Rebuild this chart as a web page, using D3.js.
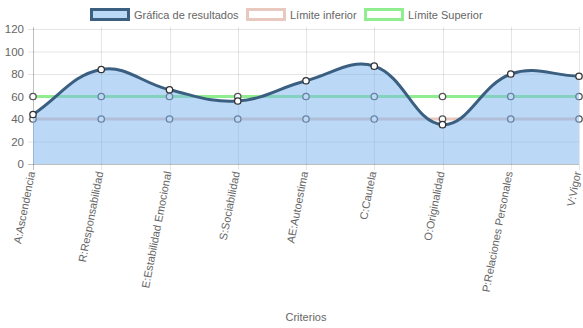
<!DOCTYPE html>
<html><head><meta charset="utf-8">
<script src="https://cdn.jsdelivr.net/npm/d3@7"></script>
<style>html,body{margin:0;padding:0;background:#fff}svg{display:block}</style>
</head><body>
<svg id="c" width="583" height="328"></svg>
<script>
const categories = ["A:Ascendencia","R:Responsabilidad","E:Estabilidad Emocional","S:Sociabilidad","AE:Autoestima","C:Cautela","O:Originalidad","P:Relaciones Personales","V:Vigor"];
const results = [44, 84, 66, 56, 74, 87, 35, 80, 78];
const lowerLimit = [40, 40, 40, 40, 40, 40, 40, 40, 40];
const upperLimit = [60, 60, 60, 60, 60, 60, 60, 60, 60];
const yTicks = [0, 20, 40, 60, 80, 100, 120];
const seriesNames = ["Gráfica de resultados", "Límite inferior", "Límite Superior"];
const axisTitle = "Criterios";

(function () {
const pLeft = 33, pRight = 579, pTop = 29, pBottom = 164;
const svg = d3.select("#c");
const font = "Liberation Sans, Arial, Helvetica, sans-serif";
const fs = 11;
const grey = "#666";

const x = d3.scalePoint().domain(categories).range([pLeft, pRight]);
const y = d3.scaleLinear().domain([0, 120]).range([pBottom, pTop]);

// grid
const g = svg.append("g");
yTicks.forEach(t => {
  g.append("line").attr("x1", pLeft - 5).attr("x2", pRight).attr("y1", y(t) + 0.5).attr("y2", y(t) + 0.5)
    .attr("stroke", t === 0 ? "rgba(0,0,0,0.25)" : "rgba(0,0,0,0.1)").attr("stroke-width", 1);
  g.append("text").attr("x", pLeft - 9).attr("y", y(t)).attr("dy", "0.35em").attr("text-anchor", "end")
    .attr("font-family", font).attr("font-size", fs + 0.5).attr("fill", grey).text(t);
});
categories.forEach((c, i) => {
  const xx = Math.round(x(c)) + 0.5;
  g.append("line").attr("x1", xx).attr("x2", xx).attr("y1", pTop - 2).attr("y2", pBottom + 6)
    .attr("stroke", i === 0 ? "rgba(0,0,0,0.25)" : "rgba(0,0,0,0.1)").attr("stroke-width", 1);
  g.append("text").attr("transform", `translate(${x(c) + 1},${pBottom + 8}) rotate(-79)`)
    .attr("dy", "0.1em").attr("text-anchor", "end")
    .attr("font-family", font).attr("font-size", fs).attr("fill", grey).text(c);
});
svg.append("text").attr("x", (pLeft + pRight) / 2).attr("y", 321).attr("text-anchor", "middle")
  .attr("font-family", font).attr("font-size", fs).attr("fill", grey).text(axisTitle);

// Chart.js-style spline
function splinePath(vals, tension, closeToBase) {
  const pts = vals.map((v, i) => ({ x: x(categories[i]), y: y(v) }));
  const cps = pts.map((cur, i) => {
    const prev = pts[i - 1] || cur, next = pts[i + 1] || cur;
    const d01 = Math.hypot(cur.x - prev.x, cur.y - prev.y);
    const d12 = Math.hypot(next.x - cur.x, next.y - cur.y);
    let s01 = d01 / (d01 + d12), s12 = d12 / (d01 + d12);
    if (isNaN(s01)) s01 = 0; if (isNaN(s12)) s12 = 0;
    const fa = tension * s01, fb = tension * s12;
    const cap = v => Math.max(pTop, Math.min(pBottom, v));
    return {
      px: cur.x - fa * (next.x - prev.x), py: cap(cur.y - fa * (next.y - prev.y)),
      nx: cur.x + fb * (next.x - prev.x), ny: cap(cur.y + fb * (next.y - prev.y))
    };
  });
  const p = d3.path();
  p.moveTo(pts[0].x, pts[0].y);
  for (let i = 1; i < pts.length; i++) {
    p.bezierCurveTo(cps[i - 1].nx, cps[i - 1].ny, cps[i].px, cps[i].py, pts[i].x, pts[i].y);
  }
  if (closeToBase) {
    p.lineTo(pts[pts.length - 1].x, y(0));
    p.lineTo(pts[0].x, y(0));
    p.closePath();
  }
  return p.toString();
}

function drawPoints(vals, stroke) {
  svg.append("g").selectAll("circle").data(vals).join("circle")
    .attr("cx", (d, i) => x(categories[i])).attr("cy", d => y(d)).attr("r", 3.2)
    .attr("fill", "#fff").attr("stroke", stroke).attr("stroke-width", 1.3);
}

const pink = "#e8c8bf", green = "#90ee90";
svg.append("path").attr("d", splinePath(upperLimit, 0.4)).attr("fill", "none").attr("stroke", green).attr("stroke-width", 3);
drawPoints(upperLimit, "#555");
svg.append("path").attr("d", splinePath(lowerLimit, 0.4)).attr("fill", "none").attr("stroke", pink).attr("stroke-width", 3);
drawPoints(lowerLimit, "#555");

svg.append("path").attr("d", splinePath(results, 0.4, true)).attr("fill", "rgba(120,180,240,0.5)");
svg.append("path").attr("d", splinePath(results, 0.4)).attr("fill", "none").attr("stroke", "#3b5f80").attr("stroke-width", 3);
drawPoints(results, "#333");

const legend = [
  { name: seriesNames[0], fill: "rgba(120,180,240,0.5)", stroke: "#3b5f80", x0: 90 },
  { name: seriesNames[1], fill: "#fff", stroke: pink, x0: 246 },
  { name: seriesNames[2], fill: "#fff", stroke: green, x0: 364 }
];
legend.forEach(l => {
  svg.append("rect").attr("x", l.x0 + 1.5).attr("y", 9.5).attr("width", 37).attr("height", 10)
    .attr("fill", l.fill).attr("stroke", l.stroke).attr("stroke-width", 3);
  svg.append("text").attr("x", l.x0 + 44).attr("y", 15).attr("dy", "0.35em")
    .attr("font-family", font).attr("font-size", fs).attr("fill", grey).text(l.name);
});
})();
</script>
</body></html>
